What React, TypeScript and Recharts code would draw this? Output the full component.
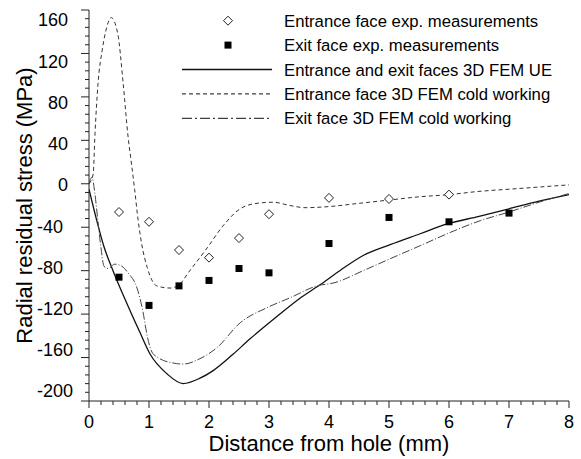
import React from 'react';
import { ComposedChart, Line, Scatter, XAxis, YAxis, Legend } from 'recharts';

// ---------- data ----------
const xMajorTicks = [0, 1, 2, 3, 4, 5, 6, 7, 8];
const yMajorTicks = [-200, -160, -120, -80, -40, 0, 40, 80, 120, 160];
const minorDivisions = 5;

const entranceExp = [
  { x: 0.5, y: -26 }, { x: 1, y: -35 }, { x: 1.5, y: -61 }, { x: 2, y: -68 },
  { x: 2.5, y: -50 }, { x: 3, y: -28 }, { x: 4, y: -13 }, { x: 5, y: -14 }, { x: 6, y: -10 },
];

const exitExp = [
  { x: 0.5, y: -86 }, { x: 1, y: -112 }, { x: 1.5, y: -94 }, { x: 2, y: -89 },
  { x: 2.5, y: -78 }, { x: 3, y: -82 }, { x: 4, y: -55 }, { x: 5, y: -31 },
  { x: 6, y: -35 }, { x: 7, y: -27 },
];

const ueCurve = [
  { x: 0, y: -5 }, { x: 0.13, y: -34 }, { x: 0.25, y: -58 }, { x: 0.4, y: -80 },
  { x: 0.63, y: -110 }, { x: 0.85, y: -137 }, { x: 1.02, y: -157 }, { x: 1.3, y: -175 },
  { x: 1.57, y: -184 }, { x: 1.85, y: -179 }, { x: 2.07, y: -172 }, { x: 2.4, y: -157 },
  { x: 2.68, y: -143 }, { x: 3.07, y: -125 }, { x: 3.5, y: -106 }, { x: 3.85, y: -93 },
  { x: 4.18, y: -80 }, { x: 4.57, y: -66 }, { x: 5.02, y: -56 }, { x: 5.52, y: -46 },
  { x: 5.97, y: -37 }, { x: 6.5, y: -30 }, { x: 7, y: -23 }, { x: 7.5, y: -16 }, { x: 8, y: -10 },
];

const entranceCold = [
  { x: 0, y: 0 }, { x: 0.07, y: 9 }, { x: 0.1, y: 46 }, { x: 0.15, y: 92 },
  { x: 0.22, y: 123 }, { x: 0.3, y: 145 }, { x: 0.37, y: 153 }, { x: 0.48, y: 138 },
  { x: 0.57, y: 92 }, { x: 0.65, y: 44 }, { x: 0.7, y: 22 }, { x: 0.76, y: -5 },
  { x: 0.82, y: -34 }, { x: 0.88, y: -56 }, { x: 0.97, y: -77 }, { x: 1.13, y: -94 },
  { x: 1.35, y: -96 }, { x: 1.48, y: -94 }, { x: 1.68, y: -80 }, { x: 1.97, y: -59 },
  { x: 2.23, y: -39 }, { x: 2.52, y: -23 }, { x: 2.8, y: -18 }, { x: 3.07, y: -17 },
  { x: 3.35, y: -20 }, { x: 3.6, y: -22 }, { x: 4, y: -21 }, { x: 4.5, y: -18 },
  { x: 5, y: -15 }, { x: 5.5, y: -12 }, { x: 6, y: -10 }, { x: 6.5, y: -7 },
  { x: 7, y: -5 }, { x: 7.5, y: -3 }, { x: 8, y: -1 },
];

const exitCold = [
  { x: 0, y: 0 }, { x: 0.05, y: 6 }, { x: 0.1, y: -10 }, { x: 0.15, y: -35 },
  { x: 0.2, y: -59 }, { x: 0.25, y: -76 }, { x: 0.32, y: -78 }, { x: 0.43, y: -74 },
  { x: 0.55, y: -76 }, { x: 0.65, y: -82 }, { x: 0.8, y: -96 }, { x: 0.9, y: -118 },
  { x: 0.97, y: -140 }, { x: 1.05, y: -155 }, { x: 1.15, y: -160 }, { x: 1.4, y: -165 },
  { x: 1.57, y: -166 }, { x: 1.85, y: -161 }, { x: 2.13, y: -151 }, { x: 2.52, y: -128 },
  { x: 2.97, y: -114 }, { x: 3.35, y: -105 }, { x: 3.8, y: -94 }, { x: 4.1, y: -91 },
  { x: 4.57, y: -80 }, { x: 5.02, y: -69 }, { x: 5.52, y: -57 }, { x: 5.97, y: -46 },
  { x: 6.52, y: -34 }, { x: 7, y: -26 }, { x: 7.5, y: -17 }, { x: 8, y: -9 },
];

const legendLabels = [
  'Entrance face exp. measurements',
  'Exit face exp. measurements',
  'Entrance and exit faces 3D FEM UE',
  'Entrance face 3D FEM cold working',
  'Exit face 3D FEM cold working',
];

const xAxisTitle = 'Distance from hole (mm)';
const yAxisTitle = 'Radial residual stress (MPa)';

// ---------- helpers ----------
const subdivide = (majors: number[]) => {
  const out: number[] = [];
  for (let i = 0; i < majors.length - 1; i++) {
    const a = majors[i];
    const b = majors[i + 1];
    for (let k = 0; k < minorDivisions; k++) {
      out.push(Math.round((a + ((b - a) * k) / minorDivisions) * 1000) / 1000);
    }
  }
  out.push(majors[majors.length - 1]);
  return out;
};

const xAllTicks = subdivide(xMajorTicks);
const yAllTicks = subdivide(yMajorTicks);

const FONT = '"Liberation Sans", Arial, Helvetica, sans-serif';
const AXIS = '#222';

const XTick = (props: any) => {
  const { x, y, payload } = props;
  const v = payload.value;
  const major = xMajorTicks.some((m) => Math.abs(m - v) < 1e-6);
  return (
    <g>
      <line x1={x} x2={x} y1={y} y2={y + (major ? 7 : 4)} stroke={AXIS} strokeWidth={1} />
      {major && (
        <text x={x} y={y + 27} textAnchor="middle" fontSize={18} fontFamily={FONT} fill="#000">
          {Math.round(v)}
        </text>
      )}
    </g>
  );
};

const YTick = (props: any) => {
  const { x, y, payload } = props;
  const v = payload.value;
  const major = yMajorTicks.some((m) => Math.abs(m - v) < 1e-6);
  const shift = ((v + 20) / 180) * 10;
  const neg = v < 0;
  return (
    <g>
      <line x1={x - (major ? 8 : 4)} x2={x} y1={y} y2={y} stroke={AXIS} strokeWidth={1} />
      {major && (
        <text
          x={neg ? 37 : 68}
          y={y + shift}
          dy="0.36em"
          textAnchor={neg ? 'start' : 'end'}
          fontSize={18}
          fontFamily={FONT}
          fill="#000"
        >
          {v}
        </text>
      )}
    </g>
  );
};

const Diamond = (p: any) => {
  const { cx, cy } = p;
  const r = 4.5;
  return (
    <path
      d={`M${cx},${cy - r}L${cx + r},${cy}L${cx},${cy + r}L${cx - r},${cy}Z`}
      fill="#fff"
      stroke="#222"
      strokeWidth={1}
    />
  );
};

const Square = (p: any) => {
  const { cx, cy } = p;
  const s = 7;
  return <rect x={cx - s / 2} y={cy - s / 2} width={s} height={s} fill="#000" />;
};

const DASHED = '4 3';
const DASHDOT = '8 2 1 2';

const LegendContent = () => (
  <svg width={581} height={135} style={{ display: 'block' }}>
    {legendLabels.map((label, i) => {
      const cy = 20.7 + i * 24.4;
      let sym: React.ReactNode = null;
      if (i === 0) sym = <Diamond cx={228} cy={cy} />;
      else if (i === 1) sym = <Square cx={228} cy={cy} />;
      else
        sym = (
          <line
            x1={182}
            x2={272}
            y1={cy}
            y2={cy}
            stroke="#111"
            strokeWidth={i === 2 ? 1.6 : 1}
            strokeDasharray={i === 3 ? DASHED : i === 4 ? '10 3 2 3' : undefined}
          />
        );
      return (
        <g key={label}>
          {sym}
          <text x={284} y={cy} dy="0.36em" fontSize={16.7} fontFamily={FONT} fill="#000">
            {label}
          </text>
        </g>
      );
    })}
  </svg>
);

export default function App() {
  return (
    <div style={{ position: 'absolute', left: 0, top: 0, background: '#fff' }}>
      <ComposedChart width={581} height={459} margin={{ top: 10, right: 12, bottom: 8, left: 0 }}>
        <XAxis
          type="number"
          dataKey="x"
          domain={[0, 8]}
          ticks={xAllTicks}
          interval={0}
          tick={<XTick />}
          tickLine={false}
          tickSize={0}
          tickMargin={0}
          height={50}
          axisLine={{ stroke: AXIS, strokeWidth: 1 }}
          allowDataOverflow
          label={{
            value: xAxisTitle,
            position: 'insideBottom',
            offset: 0,
            style: { fontSize: 22, fontFamily: FONT, fill: '#000' },
          }}
        />
        <YAxis
          type="number"
          domain={[-200, 160]}
          ticks={yAllTicks}
          interval={0}
          tick={<YTick />}
          tickLine={false}
          tickSize={0}
          tickMargin={0}
          width={89}
          axisLine={{ stroke: AXIS, strokeWidth: 1 }}
          allowDataOverflow
          label={{
            value: yAxisTitle,
            angle: -90,
            position: 'insideLeft',
            offset: 24,
            style: { fontSize: 22, fontFamily: FONT, fill: '#000', textAnchor: 'middle' },
          }}
        />
        <Legend
          layout="vertical"
          align="center"
          verticalAlign="middle"
          content={<LegendContent />}
          wrapperStyle={{ position: 'absolute', left: 0, top: 0, width: 581, height: 135 }}
        />
        <Line
          data={ueCurve}
          dataKey="y"
          type="monotone"
          stroke="#111"
          strokeWidth={1.3}
          dot={false}
          activeDot={false}
          isAnimationActive={false}
        />
        <Line
          data={entranceCold}
          dataKey="y"
          type="monotone"
          stroke="#333"
          strokeWidth={1}
          strokeDasharray={DASHED}
          dot={false}
          activeDot={false}
          isAnimationActive={false}
        />
        <Line
          data={exitCold}
          dataKey="y"
          type="monotone"
          stroke="#444"
          strokeWidth={1}
          strokeDasharray={DASHDOT}
          dot={false}
          activeDot={false}
          isAnimationActive={false}
        />
        <Scatter data={entranceExp} dataKey="y" shape={<Diamond />} isAnimationActive={false} />
        <Scatter data={exitExp} dataKey="y" shape={<Square />} isAnimationActive={false} />
      </ComposedChart>
    </div>
  );
}
